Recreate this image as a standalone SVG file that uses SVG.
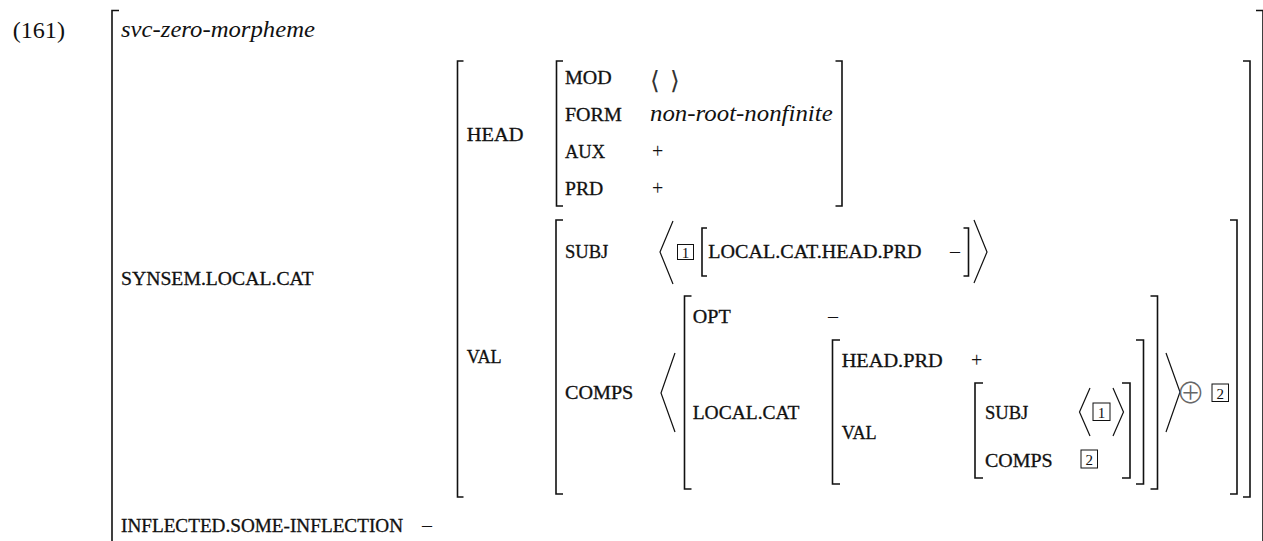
<svg xmlns="http://www.w3.org/2000/svg" width="1263" height="541" viewBox="0 0 1263 541">
<style>
text { font-family: "Liberation Serif", "Times New Roman", serif; fill: #111; }
.sc { font-size: 19px; stroke: #111; stroke-width: 0.3; }
.it { font-size: 24px; font-style: italic; }
.rm { font-size: 24px; }
.op { font-size: 20px; }
.num { font-size: 15px; text-anchor: middle; }
.sym { font-family: "DejaVu Sans", sans-serif; font-weight: 200; fill: #333; }
.oplus { font-family: "Noto Sans CJK SC", "DejaVu Sans", sans-serif; font-weight: 300; fill: #666; text-anchor: middle; }
.br { fill: none; stroke: #111; stroke-width: 1.6; }
.ang { fill: none; stroke: #111; stroke-width: 1.2; }
.box { fill: none; stroke: #111; stroke-width: 1; }
</style>
<rect x="0" y="0" width="1263" height="541" fill="#fff"/>

<g id="example-number">
<text class="rm" x="12.7" y="38" textLength="52.3" lengthAdjust="spacingAndGlyphs">(161)</text>
</g>

<g id="outer-avm">
<path class="br" d="M119 10.5 H112 V545"/>
<path class="br" d="M1256 10.5 H1263 V545"/>
<text class="it" x="121" y="37" textLength="194" lengthAdjust="spacingAndGlyphs">svc-zero-morpheme</text>
<text class="sc" x="121" y="285" textLength="192.6" lengthAdjust="spacingAndGlyphs">SYNSEM.LOCAL.CAT</text>
<text class="sc" x="121" y="531.5" textLength="282" lengthAdjust="spacingAndGlyphs">INFLECTED.SOME-INFLECTION</text>
<text class="op" x="422" y="531.5">–</text>
</g>

<g id="synsem-avm">
<path class="br" d="M463.5 61 H457.5 V497 H463.5"/>
<path class="br" d="M1243 61 H1250 V497 H1243"/>
<text class="sc" x="466.7" y="141" textLength="56.7" lengthAdjust="spacingAndGlyphs">HEAD</text>
<text class="sc" x="466.7" y="363" textLength="35" lengthAdjust="spacingAndGlyphs">VAL</text>
</g>

<g id="head-avm">
<path class="br" d="M563 61 H556.5 V206 H563"/>
<path class="br" d="M835.5 61 H842 V206 H835.5"/>
<text class="sc" x="565" y="84.3" textLength="46.7" lengthAdjust="spacingAndGlyphs">MOD</text>
<text class="sym" x="650" y="88.5" font-size="25" textLength="30" lengthAdjust="spacing">⟨ ⟩</text>
<text class="sc" x="565" y="121" textLength="56.7" lengthAdjust="spacingAndGlyphs">FORM</text>
<text class="it" x="650" y="121" textLength="182.7" lengthAdjust="spacingAndGlyphs">non-root-nonfinite</text>
<text class="sc" x="565" y="158.3" textLength="40" lengthAdjust="spacingAndGlyphs">AUX</text>
<text class="op" x="652" y="158.3">+</text>
<text class="sc" x="565" y="195" textLength="38.3" lengthAdjust="spacingAndGlyphs">PRD</text>
<text class="op" x="652" y="195">+</text>
</g>

<g id="val-avm">
<path class="br" d="M563 220 H556 V494 H563"/>
<path class="br" d="M1230 220 H1237 V494 H1230"/>
<text class="sc" x="565" y="258" textLength="43.3" lengthAdjust="spacingAndGlyphs">SUBJ</text>
<text class="sc" x="565" y="399" textLength="68.3" lengthAdjust="spacingAndGlyphs">COMPS</text>
</g>

<g id="subj-value">
<polyline class="ang" points="673,221 660,252 673,284"/>
<rect class="box" x="677.5" y="244.5" width="16" height="15"/>
<text class="num" x="685.5" y="257.5">1</text>
<path class="br" d="M707 228 H702 V276 H707"/>
<text class="sc" x="708.3" y="258" textLength="213.3" lengthAdjust="spacingAndGlyphs">LOCAL.CAT.HEAD.PRD</text>
<text class="op" x="950" y="258">–</text>
<path class="br" d="M963.5 228 H968.5 V276 H963.5"/>
<polyline class="ang" points="974,220 987,252 974,283"/>
</g>

<g id="comps-value">
<polyline class="ang" points="675,353 661,393 675,432"/>
<path class="br" d="M691.5 296 H684.5 V489 H691.5"/>
<path class="br" d="M1150.5 296 H1157.5 V489 H1150.5"/>
<text class="sc" x="692.7" y="322.7" textLength="38" lengthAdjust="spacingAndGlyphs">OPT</text>
<text class="op" x="828" y="322.7">–</text>
<text class="sc" x="692.7" y="419.3" textLength="106.7" lengthAdjust="spacingAndGlyphs">LOCAL.CAT</text>
<polyline class="ang" points="1166,353 1180,392 1166,432"/>
<text class="oplus" x="1190.5" y="403.5" font-size="29">⊕</text>
<rect class="box" x="1212" y="384" width="16.5" height="17.5"/>
<text class="num" x="1220.2" y="398.5">2</text>
</g>

<g id="localcat-avm">
<path class="br" d="M840 340 H832.5 V484 H840"/>
<path class="br" d="M1136 340 H1143.5 V484 H1136"/>
<text class="sc" x="841.7" y="366.7" textLength="101" lengthAdjust="spacingAndGlyphs">HEAD.PRD</text>
<text class="op" x="971" y="366.7">+</text>
<text class="sc" x="841.7" y="439.3" textLength="35" lengthAdjust="spacingAndGlyphs">VAL</text>
</g>

<g id="inner-val-avm">
<path class="br" d="M983 383 H975 V478 H983"/>
<path class="br" d="M1122 383 H1130 V478 H1122"/>
<text class="sc" x="985" y="419" textLength="43.3" lengthAdjust="spacingAndGlyphs">SUBJ</text>
<polyline class="ang" points="1090,388 1079.5,412 1090,436"/>
<rect class="box" x="1093" y="403" width="17" height="17.5"/>
<text class="num" x="1101.5" y="417.5">1</text>
<polyline class="ang" points="1113,388 1123.5,412 1113,436"/>
<text class="sc" x="985" y="466.7" textLength="67.7" lengthAdjust="spacingAndGlyphs">COMPS</text>
<rect class="box" x="1081" y="450" width="16.5" height="18"/>
<text class="num" x="1089.2" y="464.5">2</text>
</g>
</svg>
